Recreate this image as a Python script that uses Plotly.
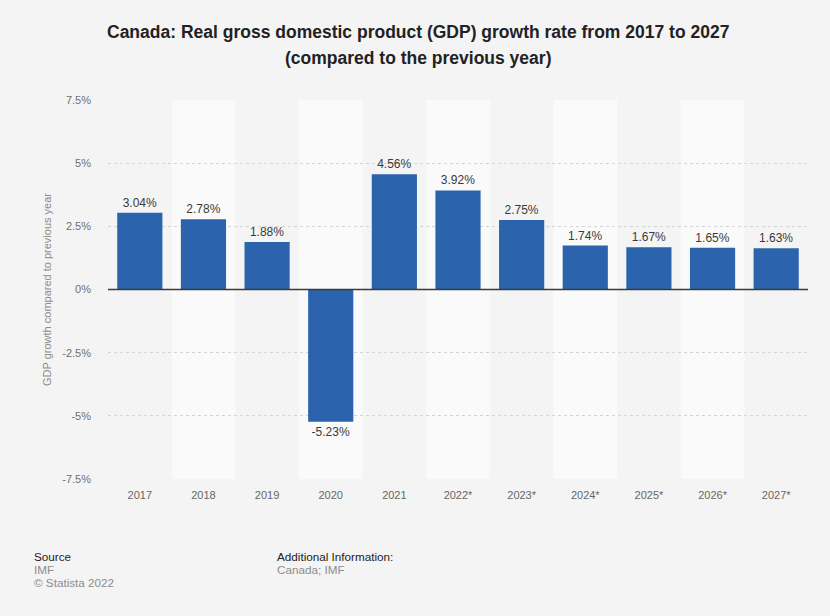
import plotly.graph_objects as go

years = ["2017", "2018", "2019", "2020", "2021", "2022*", "2023*", "2024*", "2025*", "2026*", "2027*"]
growth = [3.04, 2.78, 1.88, -5.23, 4.56, 3.92, 2.75, 1.74, 1.67, 1.65, 1.63]
y_ticks = [7.5, 5, 2.5, 0, -2.5, -5, -7.5]
y_tick_labels = ["7.5%", "5%", "2.5%", "0%", "-2.5%", "-5%", "-7.5%"]

labels = [("-" if v < 0 else "") + f"{abs(v):.2f}%" for v in growth]

BG = "#f4f4f4"
FONT = "Liberation Sans, Arial, sans-serif"
W, H = 830, 616
L, R, T, B = 108, 22, 100, 137

fig = go.Figure()
fig.add_trace(go.Bar(
    x=years, y=growth, text=labels, textposition="outside",
    textfont=dict(family=FONT, size=12, color="#3a3a3a"),
    marker=dict(color="#2b64ad", line=dict(width=0)),
    cliponaxis=False, hoverinfo="skip",
))

shapes = []
for i in range(len(years)):
    if i % 2 == 1:
        shapes.append(dict(type="rect", xref="x", yref="paper", x0=i - 0.5, x1=i + 0.5,
                           y0=0, y1=1, fillcolor="#fafafa", line=dict(width=0), layer="below"))
shapes.append(dict(type="line", xref="paper", yref="y", x0=0, x1=1, y0=0, y1=0,
                   line=dict(color="#3a3a3a", width=1.5), layer="above"))

fig.update_layout(
    width=W, height=H,
    margin=dict(l=L, r=R, t=T, b=B),
    paper_bgcolor=BG, plot_bgcolor=BG,
    bargap=0.29,
    showlegend=False,
    shapes=shapes,
    font=dict(family=FONT, color="#666666"),
    xaxis=dict(
        type="category", showgrid=False, zeroline=False, showline=False,
        tickfont=dict(family=FONT, size=11, color="#666666"),
        ticklabelstandoff=8,
    ),
    yaxis=dict(
        range=[-7.5, 7.5], tickvals=y_ticks, ticktext=y_tick_labels,
        showgrid=True, gridcolor="#d4d4d4", griddash="dot", gridwidth=1,
        zeroline=False, showline=False,
        tickfont=dict(family=FONT, size=11, color="#707070"),
        ticklabelstandoff=16,
        title=dict(text="GDP growth compared to previous year",
                   font=dict(family=FONT, size=11, color="#8c8c8c"), standoff=8),
    ),
)

pw, ph = W - L - R, H - T - B
def px(x):
    return (x - L) / pw
def py(y):
    return (H - B - y) / ph

title_lines = [
    ("<b>Canada: Real gross domestic product (GDP) growth rate from 2017 to 2027</b>", 32),
    ("<b>(compared to the previous year)</b>", 58),
]
for t, y in title_lines:
    fig.add_annotation(text=t, x=px(418), y=py(y), xref="paper", yref="paper",
                       xanchor="center", yanchor="middle", showarrow=False,
                       font=dict(family=FONT, size=17.5, color="#222222"))

footer = [
    ("Source", 32, 556, "#222222"),
    ("IMF", 32, 569, "#8c8c8c"),
    ("© Statista 2022", 32, 582, "#8c8c8c"),
    ("Additional Information:", 275, 556, "#222222"),
    ("Canada; IMF", 275, 569, "#8c8c8c"),
]
for t, x, y, c in footer:
    fig.add_annotation(text=t, x=px(x), y=py(y), xref="paper", yref="paper",
                       xanchor="left", yanchor="middle", showarrow=False,
                       font=dict(family=FONT, size=11.7, color=c))

fig.write_html("out.html")
